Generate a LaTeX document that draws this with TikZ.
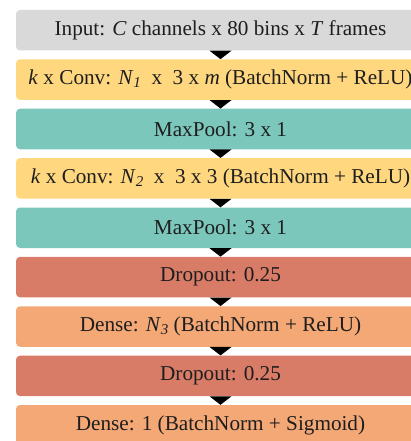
\documentclass[tikz,border=0pt]{standalone}
\usepackage{fontspec}
\setmainfont{Liberation Serif}
\definecolor{inputgray}{HTML}{D9D9D9}
\definecolor{convyellow}{HTML}{FFD77F}
\definecolor{poolteal}{HTML}{7CC7BC}
\definecolor{dropred}{HTML}{D97C67}
\definecolor{denseorange}{HTML}{F3A876}
\definecolor{textdark}{HTML}{1E1E1E}
\newcommand{\lowsub}[1]{\raisebox{-0.28ex}{\fontsize{15}{15}\selectfont\textit{#1}}}
\begin{document}
\begin{tikzpicture}[x=1pt,y=-1pt,
  layer/.style={rounded corners=4pt, minimum width=409pt, minimum height=40.5pt,
    inner sep=0pt, text=textdark, font=\fontsize{21.2}{24}\selectfont},
  flowtip/.style={fill=black}]
\useasboundingbox (0,0) rectangle (411,441);
\def\pitch{49.375}
\node[layer, fill=inputgray]   (l1) at (220.5, 30.25) {Input: \textit{C} channels x 80 bins x \textit{T} frames};
\node[layer, fill=convyellow]  (l2) at (220.5, 30.25+\pitch) {\textit{k} x Conv: \textit{N}\lowsub{1}\ \ x\ \ 3 x \textit{m} (BatchNorm + ReLU)};
\node[layer, fill=poolteal]    (l3) at (220.5, 30.25+2*\pitch) {MaxPool: 3 x 1};
\node[layer, fill=convyellow]  (l4) at (220.5, 30.25+3*\pitch) {\textit{k} x Conv: \textit{N}\lowsub{2}\ \ x\ \ 3 x 3 (BatchNorm + ReLU)};
\node[layer, fill=poolteal]    (l5) at (220.5, 30.25+4*\pitch) {MaxPool: 3 x 1};
\node[layer, fill=dropred]     (l6) at (220.5, 30.25+5*\pitch) {Dropout: 0.25};
\node[layer, fill=denseorange] (l7) at (220.5, 30.25+6*\pitch) {Dense: \textit{N}\lowsub{3} (BatchNorm + ReLU)};
\node[layer, fill=dropred]     (l8) at (220.5, 30.25+7*\pitch) {Dropout: 0.25};
\node[layer, fill=denseorange] (l9) at (220.5, 30.25+8*\pitch) {Dense: 1 (BatchNorm + Sigmoid)};
% downward triangles between consecutive layers
\foreach \a/\b in {l1/l2,l2/l3,l3/l4,l4/l5,l5/l6,l6/l7,l7/l8,l8/l9}{
  \fill[flowtip] ([xshift=-11pt]\a.south) -- ([xshift=11pt]\a.south) -- (\b.north) -- cycle;
}
\end{tikzpicture}
\end{document}
